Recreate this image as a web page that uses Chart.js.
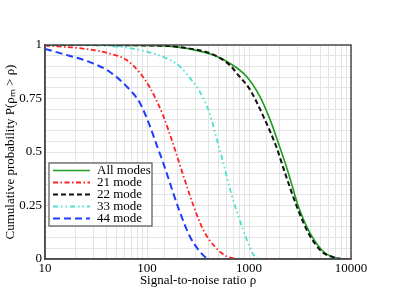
<!DOCTYPE html>
<html>
<head>
<meta charset="utf-8">
<script src="https://cdn.jsdelivr.net/npm/chart.js@4/dist/chart.umd.min.js"></script>
<style>
html,body{margin:0;padding:0;background:#fff;}
#wrap{width:395px;height:305px;position:relative;}
</style>
</head>
<body>
<div id="wrap"><canvas id="c" width="395" height="305"></canvas></div>
<script>
// Series labels
const seriesNames = ['All modes', '21 mode', '22 mode', '33 mode', '44 mode'];

// All modes
const allModesSNR = [10, 100, 210, 447, 652, 951, 1285, 1612, 2022, 2440, 3058, 3980, 5380, 6750, 8000];
const allModesP   = [1.0, 0.998, 0.989, 0.953, 0.914, 0.852, 0.758, 0.65, 0.517, 0.40, 0.244, 0.12, 0.034, 0.008, 0.0];

// 21 mode
const mode21SNR = [10, 22, 43, 63, 85, 107, 144, 181, 227, 285, 357, 464, 605, 780];
const mode21P   = [0.997, 0.985, 0.96, 0.93, 0.87, 0.80, 0.67, 0.535, 0.39, 0.25, 0.135, 0.057, 0.012, 0.0];

// 22 mode
const mode22SNR = [10, 100, 210, 447, 652, 759, 1026, 1387, 1850, 2260, 2950, 3830, 5190, 6750, 8000];
const mode22P   = [1.0, 0.998, 0.99, 0.955, 0.905, 0.868, 0.79, 0.665, 0.525, 0.40, 0.244, 0.12, 0.034, 0.008, 0.0];

// 33 mode
const mode33SNR = [10, 35, 85, 168, 210, 264, 331, 415, 483, 561, 652, 787, 951, 1105, 1250];
const mode33P   = [1.0, 0.997, 0.977, 0.93, 0.90, 0.845, 0.78, 0.675, 0.56, 0.447, 0.325, 0.2, 0.09, 0.02, 0.0];

// 44 mode
const mode44SNR = [10, 14, 27.5, 43, 65, 85, 107, 125, 144, 160, 206, 264, 331, 385, 420];
const mode44P   = [0.982, 0.962, 0.92, 0.875, 0.80, 0.73, 0.62, 0.53, 0.45, 0.385, 0.23, 0.104, 0.034, 0.004, 0.0];

// Axis tick labels
const xTickLabels = [10, 100, 1000, 10000];
const yTickLabels = [0, 0.25, 0.5, 0.75, 1];

function pts(xs, ys){ return xs.map((x,i)=>({x:x, y:ys[i]})); }

const FONT = {family: '"Liberation Serif", "Times New Roman", serif', size: 13};

const styles = [
  {borderColor:'#1e9e1e', borderWidth:1.6, borderDash:[]},
  {borderColor:'#ff2222', borderWidth:1.8, borderDash:[5,2.5,1.5,2.5]},
  {borderColor:'#111111', borderWidth:2, borderDash:[5,3]},
  {borderColor:'#48e0d2', borderWidth:1.8, borderDash:[5,3,1.5,3,1.5,3]},
  {borderColor:'#1f3cff', borderWidth:2, borderDash:[7,4]}
];
const seriesData = [
  pts(allModesSNR, allModesP),
  pts(mode21SNR, mode21P),
  pts(mode22SNR, mode22P),
  pts(mode33SNR, mode33P),
  pts(mode44SNR, mode44P)
];

// draw order: lower series first so green is on top where they coincide
const order = [4,3,1,2,0];
const datasets = seriesNames.map((name,i)=>Object.assign({
  label: name,
  data: seriesData[i],
  pointRadius: 0,
  fill: false,
  cubicInterpolationMode: 'monotone',
  order: order[i]
}, styles[i]));

const framePlugin = {
  id: 'frame',
  afterDraw(chart){
    const {ctx, chartArea:a} = chart;
    ctx.save();
    ctx.strokeStyle = '#4a4a4a';
    ctx.lineWidth = 1.5;
    ctx.setLineDash([]);
    ctx.strokeRect(a.left, a.top, a.right-a.left, a.bottom-a.top);
    // in-plot legend
    const bx = 49, by = 163, bw = 103, bh = 63;
    ctx.fillStyle = '#fff';
    ctx.fillRect(bx, by, bw, bh);
    ctx.strokeStyle = '#555';
    ctx.lineWidth = 1.2;
    ctx.strokeRect(bx, by, bw, bh);
    ctx.font = FONT.size + 'px ' + FONT.family;
    ctx.textBaseline = 'middle';
    ctx.textAlign = 'left';
    chart.data.datasets.forEach((ds,i)=>{
      const y = by + 7.5 + i*12;
      ctx.strokeStyle = ds.borderColor;
      ctx.lineWidth = ds.borderWidth;
      ctx.setLineDash(ds.borderDash);
      ctx.beginPath();
      ctx.moveTo(bx+4, y);
      ctx.lineTo(bx+41, y);
      ctx.stroke();
      ctx.setLineDash([]);
      ctx.fillStyle = '#000';
      ctx.fillText(ds.label, bx+48, y+0.5);
    });
    ctx.restore();
  }
};

new Chart(document.getElementById('c'), {
  type: 'line',
  data: {datasets},
  plugins: [framePlugin],
  options: {
    responsive: false,
    animation: false,
    events: [],
    layout: {padding: {top: 45, right: 44, left: 0, bottom: 0}},
    plugins: {legend: {display: false}, tooltip: {enabled: false}},
    scales: {
      x: {
        type: 'logarithmic',
        min: 10, max: 10000,
        afterFit(s){ s.height = 46; },
        grid: {color: '#e4e4e4', lineWidth: 1, drawTicks: false},
        border: {display: true, color: '#4a4a4a', width: 1.5},
        ticks: {
          autoSkip: false, maxRotation: 0, padding: 2, color: '#000', font: FONT,
          callback: (v)=> xTickLabels.includes(Math.round(v)) && Math.abs(v-Math.round(v))<1e-6 ? String(Math.round(v)) : ''
        },
        title: {display: true, text: 'Signal-to-noise ratio ρ', color: '#000', font: FONT, padding: {top: 0, bottom: 17}}
      },
      y: {
        type: 'linear',
        min: 0, max: 1,
        afterFit(s){ s.width = 45; },
        grid: {color: '#e4e4e4', lineWidth: 1, drawTicks: false},
        border: {display: true, color: '#4a4a4a', width: 1.5},
        ticks: {
          stepSize: 0.05, maxTicksLimit: 30, autoSkip: false, padding: 3, color: '#000', font: FONT,
          callback: (v)=> {
            const m = yTickLabels.find(t=>Math.abs(t-v)<1e-6);
            return m === undefined ? '' : String(m);
          }
        },
        title: {display: true, text: 'Cumulative probability P(ρₘ > ρ)', color: '#000', font: FONT, padding: {top: 3, bottom: 0}}
      }
    }
  }
});
</script>
</body>
</html>
